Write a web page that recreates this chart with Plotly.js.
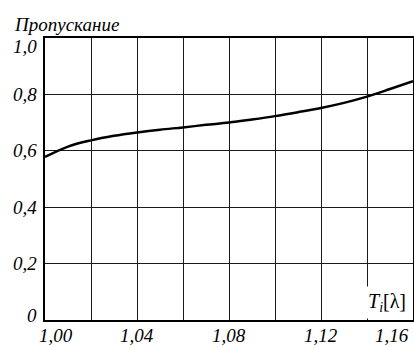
<!DOCTYPE html>
<html>
<head>
<meta charset="utf-8">
<script src="https://cdn.plot.ly/plotly-3.0.1.min.js"></script>
<style>html,body{margin:0;padding:0;background:#fff;}#chart{width:414px;height:347px;}</style>
</head>
<body>
<div id="chart"></div>
<script>
// Data
const wavelength = [1.00, 1.01, 1.02, 1.03, 1.04, 1.05, 1.06, 1.07, 1.08, 1.09, 1.10, 1.11, 1.12, 1.13, 1.14, 1.15, 1.16];
const transmission = [0.578, 0.615, 0.637, 0.653, 0.665, 0.675, 0.683, 0.692, 0.700, 0.711, 0.723, 0.737, 0.752, 0.770, 0.792, 0.819, 0.847];

const xGridVals = [1.00, 1.02, 1.04, 1.06, 1.08, 1.10, 1.12, 1.14, 1.16];
const xLabelVals = [1.00, 1.04, 1.08, 1.12, 1.16];
const xLabelText = ["1,00", "1,04", "1,08", "1,12", "1,16"];
const yVals = [0, 0.2, 0.4, 0.6, 0.8, 1.0];
const yLabelText = ["0", "0,2", "0,4", "0,6", "0,8", "1,0"];

const yTitle = "Пропускание";
const xTitle = "<i>T<sub>i</sub></i>[λ]";

const FONT = "'Liberation Serif', 'DejaVu Serif', 'Times New Roman', serif";
const fsz = 19;
const tickFont = {family: FONT, size: fsz, color: "#000", style: "italic"};

const annotations = [];
// x tick labels (first and last are pulled inward, as in the reference)
xLabelVals.forEach((v, i) => {
  let xs = 0;
  if (i === 0) xs = 11;
  if (i === xLabelVals.length - 1) xs = -21;
  annotations.push({xref: "x", yref: "paper", x: v, y: 0, xanchor: "center", yanchor: "top",
    xshift: xs, yshift: -3, text: xLabelText[i], showarrow: false, font: tickFont});
});
// y tick labels (0 pulled up, 1,0 pulled down)
yVals.forEach((v, i) => {
  let ys = 0;
  if (i === 0) ys = 5;
  if (i === yVals.length - 1) ys = -8;
  annotations.push({xref: "paper", yref: "y", x: 0, y: v, xanchor: "right", yanchor: "middle",
    xshift: -6, yshift: ys, text: yLabelText[i], showarrow: false, font: tickFont});
});
annotations.push({xref: "paper", yref: "paper", x: 0, y: 1, xanchor: "left", yanchor: "bottom",
  xshift: -33, yshift: 1, text: yTitle, showarrow: false, font: tickFont});
annotations.push({xref: "paper", yref: "paper", x: 1, y: 0, xanchor: "right", yanchor: "bottom",
  xshift: -3, yshift: 1, text: xTitle, showarrow: false, bgcolor: "#fff", borderpad: 3,
  font: {family: FONT, size: 20, color: "#000"}});

const trace = {
  x: wavelength, y: transmission, type: "scatter", mode: "lines",
  line: {color: "#000", width: 2.5, shape: "spline", smoothing: 1},
  hoverinfo: "skip"
};

const layout = {
  width: 414, height: 347,
  margin: {l: 45, r: 1, t: 38, b: 27, pad: 0},
  paper_bgcolor: "#fff", plot_bgcolor: "#fff",
  showlegend: false,
  font: {family: FONT, size: fsz, color: "#000"},
  xaxis: {
    range: [1.00, 1.16], tickmode: "array", tickvals: xGridVals, showticklabels: false,
    showgrid: true, gridcolor: "#1a1a1a", gridwidth: 1,
    showline: true, linecolor: "#000", linewidth: 2, mirror: true,
    ticks: "", zeroline: false, fixedrange: true
  },
  yaxis: {
    range: [0, 1.0], tickmode: "array", tickvals: yVals, showticklabels: false,
    showgrid: true, gridcolor: "#1a1a1a", gridwidth: 1,
    showline: true, linecolor: "#000", linewidth: 2, mirror: true,
    ticks: "", zeroline: false, fixedrange: true
  },
  annotations: annotations
};

Plotly.newPlot("chart", [trace], layout, {staticPlot: true, displayModeBar: false});
</script>
</body>
</html>
